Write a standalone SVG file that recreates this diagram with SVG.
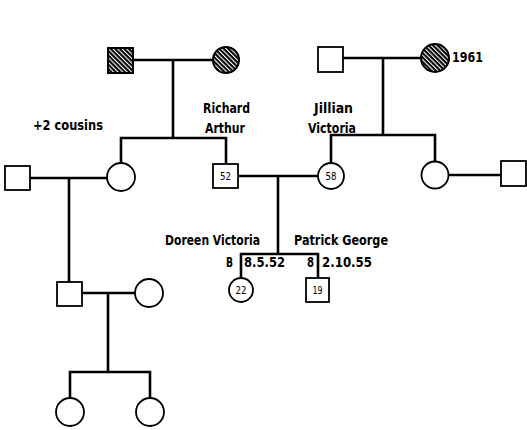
<svg xmlns="http://www.w3.org/2000/svg" width="527" height="430" viewBox="0 0 527 430">
<style>
.p{fill:#fff;stroke:#000;stroke-width:1.8}
.h{fill:url(#hatch);stroke:#000;stroke-width:2}
.c{fill:none;stroke:#000;stroke-width:2.6;stroke-linecap:square}
.t{font-family:"DejaVu Sans Condensed","DejaVu Sans",sans-serif;font-weight:bold;font-size:14.5px;fill:#000}
.n{font-family:"DejaVu Sans Condensed","DejaVu Sans",sans-serif;font-size:11px;fill:#000;text-anchor:middle}
</style>
<defs>
<pattern id="hatch" width="3.2" height="3.2" patternUnits="userSpaceOnUse" patternTransform="rotate(-45)">
<rect width="3.2" height="3.2" fill="#000"/>
<rect width="1.1" height="3.2" fill="#fff"/>
</pattern>
</defs>
<g id="connectors">
<path class="c" d="M133 60H213M173 60V138M121 138H226M121 138V163M226 138V164"/>
<path class="c" d="M343 58H420M383 58V135M331 135H435M331 135V163M435 135V162"/>
<path class="c" d="M238 176H318M278 176V254M241 254H318M241 254V278M318 254V278"/>
<path class="c" d="M30 178H107M69 178V282"/>
<path class="c" d="M448 175H501"/>
<path class="c" d="M83 293H135M108 293V372M70 372H150M70 372V398M150 372V398"/>
</g>
<g id="gf1"><rect class="h" x="108" y="48" width="25" height="25"/></g>
<g id="gm1"><circle class="h" cx="226" cy="60" r="13"/></g>
<g id="gf2"><rect class="p" x="318" y="47" width="25" height="25"/></g>
<g id="gm2"><circle class="h" cx="435" cy="58" r="14"/><text class="t" x="452" y="62" textLength="31" lengthAdjust="spacingAndGlyphs">1961</text></g>
<g id="aunt"><circle class="p" cx="121" cy="177" r="14"/></g>
<g id="auntHusband"><rect class="p" x="5" y="166" width="25" height="24"/></g>
<g id="richard"><rect class="p" x="213" y="164" width="25" height="24"/><text class="n" x="225.5" y="180" textLength="11" lengthAdjust="spacingAndGlyphs">52</text>
<text class="t" x="203" y="113" textLength="47" lengthAdjust="spacingAndGlyphs">Richard</text><text class="t" x="205" y="133" textLength="40" lengthAdjust="spacingAndGlyphs">Arthur</text></g>
<g id="jillian"><circle class="p" cx="331" cy="176" r="13"/><text class="n" x="331" y="180" textLength="11" lengthAdjust="spacingAndGlyphs">58</text>
<text class="t" x="314" y="113" textLength="39" lengthAdjust="spacingAndGlyphs">Jillian</text><text class="t" x="308" y="133" textLength="48" lengthAdjust="spacingAndGlyphs">Victoria</text></g>
<g id="jAunt"><circle class="p" cx="435" cy="175" r="13.5"/></g>
<g id="jAuntHusband"><rect class="p" x="501" y="161" width="25" height="25"/></g>
<g id="cousinNote"><text class="t" x="33" y="130" textLength="70" lengthAdjust="spacingAndGlyphs">+2 cousins</text></g>
<g id="cousin"><rect class="p" x="57" y="282" width="25" height="24"/></g>
<g id="cousinWife"><circle class="p" cx="149" cy="293" r="14"/></g>
<g id="gc1"><circle class="p" cx="70" cy="412" r="14"/></g>
<g id="gc2"><circle class="p" cx="150" cy="412" r="14"/></g>
<g id="doreen"><circle class="p" cx="241" cy="290" r="12"/><text class="n" x="241" y="294" textLength="11" lengthAdjust="spacingAndGlyphs">22</text>
<text class="t" x="165" y="245" textLength="95" lengthAdjust="spacingAndGlyphs">Doreen  Victoria</text><text class="t" x="226" y="267" textLength="7" lengthAdjust="spacingAndGlyphs">B</text><text class="t" x="244" y="267" textLength="41" lengthAdjust="spacingAndGlyphs">8.5.52</text></g>
<g id="patrick"><rect class="p" x="306" y="278" width="23" height="24"/><text class="n" x="317.5" y="294" textLength="10" lengthAdjust="spacingAndGlyphs">19</text>
<text class="t" x="294" y="245" textLength="94" lengthAdjust="spacingAndGlyphs">Patrick  George</text><text class="t" x="307" y="267" textLength="7" lengthAdjust="spacingAndGlyphs">8</text><text class="t" x="322" y="267" textLength="50" lengthAdjust="spacingAndGlyphs">2.10.55</text></g>
</svg>
